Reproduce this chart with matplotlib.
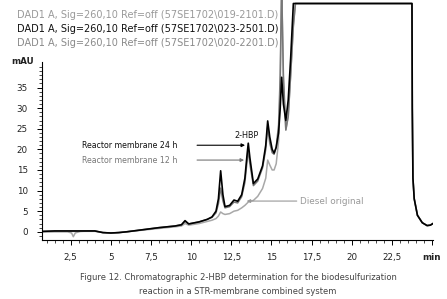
import matplotlib
matplotlib.use("Agg")
import matplotlib.pyplot as plt
from matplotlib.ticker import MultipleLocator, FixedLocator

# retention time (min) and detector signal (mAU)
t = [0.69, 1.5, 2.3, 2.55, 2.66, 2.78, 3.1, 4.0, 4.5, 5.0, 5.5, 6.0, 7.0, 8.0,
     9.0, 9.4, 9.62, 9.85, 10.5, 11.0, 11.3, 11.55, 11.7, 11.84, 11.98, 12.11,
     12.4, 12.67, 12.9, 13.15, 13.35, 13.48, 13.56, 13.66, 13.88, 14.15, 14.45,
     14.65, 14.77, 14.9, 15.05, 15.17, 15.3, 15.45, 15.55, 15.64, 15.75, 15.9,
     16.05, 16.2, 16.37, 16.5, 20.0, 23.76, 23.78, 23.82, 23.9, 24.1, 24.4,
     24.7, 24.9, 25.07]

h24 = [0.1, 0.2, 0.2, 0.2, 0.2, 0.2, 0.2, 0.2, -0.2, -0.3, -0.2, 0.0, 0.5, 1.0,
       1.4, 1.7, 2.7, 1.9, 2.4, 3.0, 3.6, 5.0, 8.0, 14.8, 9.0, 6.1,
       6.4, 7.7, 7.4, 9.0, 13.0, 18.5, 21.5, 18.0, 11.7, 12.8, 16.0,
       21.0, 26.9, 23.0, 20.0, 19.1, 20.5, 24.0, 30.0, 37.5, 31.0, 27.0,
       32.0, 42.0, 55.4, 55.4, 55.4, 55.4, 30.0, 13.0, 8.0, 4.0, 2.2,
       1.5, 1.6, 2.0]

h12 = [0.0, 0.1, 0.1, 0.1, 0.1, 0.1, 0.1, 0.2, -0.2, -0.3, -0.2, 0.0, 0.5, 1.0,
       1.4, 1.7, 2.5, 1.9, 2.4, 3.0, 3.5, 4.6, 6.8, 10.6, 7.5, 5.8,
       6.1, 7.2, 7.0, 8.5, 12.0, 17.0, 19.8, 16.5, 11.2, 12.3, 15.5,
       20.0, 25.5, 21.5, 19.2, 18.8, 20.5, 26.0, 38.0, 60.0, 38.0, 24.7,
       28.0, 38.0, 50.0, 55.4, 55.4, 55.4, 30.0, 13.0, 8.0, 4.0, 2.2,
       1.5, 1.6, 2.0]

diesel = [0.0, 0.0, 0.0, -0.3, -1.2, -0.3, 0.1, 0.1, -0.2, -0.3, -0.2, 0.0, 0.4, 0.8,
          1.2, 1.4, 2.0, 1.6, 2.0, 2.5, 2.8, 3.2, 3.8, 4.8, 4.4, 4.2,
          4.4, 5.0, 5.2, 5.8, 6.4, 6.9, 7.2, 7.4, 7.6, 8.6, 10.5,
          13.0, 17.4, 16.2, 15.0, 15.0, 16.5, 22.0, 35.0, 60.0, 36.0, 24.7,
          28.0, 38.0, 50.0, 55.4, 55.4, 55.4, 30.0, 13.0, 8.0, 4.0, 2.2,
          1.5, 1.6, 2.0]

xticks = [2.5, 5, 7.5, 10, 12.5, 15, 17.5, 20, 22.5, 25]
xticklabels = ["2,5", "5", "7,5", "10", "12,5", "15", "17,5", "20", "22,5", "min"]
yticks = [0, 5, 10, 15, 20, 25, 30, 35]

headers = ["DAD1 A, Sig=260,10 Ref=off (57SE1702\\019-2101.D)",
           "DAD1 A, Sig=260,10 Ref=off (57SE1702\\023-2501.D)",
           "DAD1 A, Sig=260,10 Ref=off (57SE1702\\020-2201.D)"]
header_colors = ["#9a9a9a", "#111111", "#8a8a8a"]

W, H = 447, 299
fig = plt.figure(figsize=(W / 100, H / 100), dpi=100)
ax = fig.add_axes([41.7 / W, 59 / H, (433 - 41.7) / W, 240 / H])

ax.plot(t, diesel, color="#a8a8a8", lw=1.1)
ax.plot(t, h12, color="#777777", lw=1.1)
ax.plot(t, h24, color="#000000", lw=1.2)

ax.set_xlim(0.69, 25.07)
ax.set_ylim(-2.0, 56.25)

for s in ["top", "right"]:
    ax.spines[s].set_visible(False)
ax.spines["left"].set_bounds(-2.0, 41.2)
ax.spines["left"].set_linewidth(0.8)
ax.spines["bottom"].set_linewidth(0.8)

ax.set_xticks(xticks)
ax.set_xticklabels(xticklabels)
ax.xaxis.set_minor_locator(MultipleLocator(0.5))
ax.set_yticks(yticks)
ax.yaxis.set_minor_locator(FixedLocator(list(range(-1, 41))))
ax.tick_params(axis="both", which="major", length=3.5, width=0.7,
               labelsize=6.3, labelcolor="#222222", direction="out")
ax.tick_params(axis="both", which="minor", length=2, width=0.5, direction="out")
ax.tick_params(axis="x", pad=6)
ax.tick_params(axis="y", pad=6.5)
ax.get_xticklabels()[-1].set_fontweight("bold")

ax.text(-0.05, 41.3, "mAU", transform=ax.get_yaxis_transform(),
        ha="center", va="center", fontsize=6.3, fontweight="bold", color="#222222")

# file headers
for i, (txt, c) in enumerate(zip(headers, header_colors)):
    fig.text(17 / W, 1 - (15 + 14.2 * i) / H, txt, fontsize=7.0, color=c,
             ha="left", va="center")

# annotations
ax.annotate("", xy=(13.36, 21.0), xytext=(10.37, 21.0),
            arrowprops=dict(arrowstyle="-|>", color="#000000", lw=0.8,
                            mutation_scale=5, shrinkA=0, shrinkB=0))
ax.text(9.12, 21.0, "Reactor membrane 24 h", ha="right", va="center",
        fontsize=5.7, color="#111111")
ax.annotate("", xy=(13.30, 17.4), xytext=(10.37, 17.4),
            arrowprops=dict(arrowstyle="-|>", color="#777777", lw=0.8,
                            mutation_scale=5, shrinkA=0, shrinkB=0))
ax.text(9.12, 17.4, "Reactor membrane 12 h", ha="right", va="center",
        fontsize=5.7, color="#777777")
ax.text(13.46, 23.3, "2-HBP", ha="center", va="center", fontsize=5.9,
        color="#111111")
ax.annotate("", xy=(13.46, 7.45), xytext=(16.58, 7.45),
            arrowprops=dict(arrowstyle="-|>", color="#999999", lw=0.8,
                            mutation_scale=5, shrinkA=0, shrinkB=0))
ax.text(16.78, 7.45, "Diesel original", ha="left", va="center",
        fontsize=6.4, color="#999999")

# caption
fig.text(238 / W, 1 - 277 / H,
         "Figure 12. Chromatographic 2-HBP determination for the biodesulfurization",
         ha="center", va="center", fontsize=6.0, color="#444444")
fig.text(238 / W, 1 - 292 / H, "reaction in a STR-membrane combined system",
         ha="center", va="center", fontsize=6.0, color="#444444")

fig.savefig("out.png", dpi=100)
